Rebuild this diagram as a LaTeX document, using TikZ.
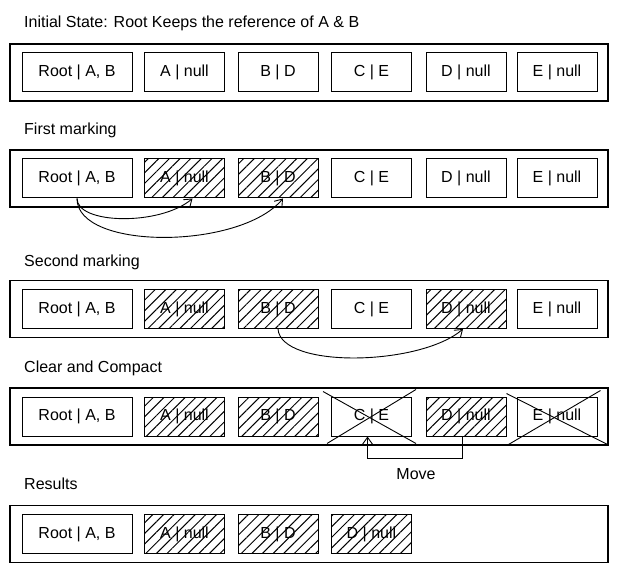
\documentclass[tikz,border=0pt]{standalone}
\usepackage{fontspec}
\setmainfont{Liberation Sans}
\usetikzlibrary{calc,arrows.meta,patterns.meta}

\begin{document}
\begin{tikzpicture}[x=1pt,y=-1pt,>={Straight Barb[length=7pt,width=10pt]},
  lbl/.style={font=\fontsize{16}{18}\selectfont},
  title/.style={lbl,anchor=base west,inner sep=0},
  frame/.style={draw,line width=1.2pt,minimum width=598,minimum height=57,inner sep=0},
  cell/.style={lbl,draw,line width=1pt,minimum width=80,minimum height=39,inner sep=0},
  wide/.style={minimum width=110},
  marked/.style={cell,pattern={Lines[angle=45,distance=7.5pt,line width=1pt]}},
  ref/.style={->,line width=0.9pt}]
  \useasboundingbox (0,0) rectangle (619,572);

  % initial state
  \node[title] (t1) at (24,28) {Initial State: Root Keeps the reference of A \& B};
  \node[frame] (f1) at (309,72.5) {};
  \node[cell,wide] (r1root) at (77,72.5) {Root | A, B};
  \node[cell] (r1a) at (184.5,72.5) {A | null};
  \node[cell] (r1b) at (278,72.5) {B | D};
  \node[cell] (r1c) at (371.5,72.5) {C | E};
  \node[cell] (r1d) at (466,72.5) {D | null};
  \node[cell] (r1e) at (557,72.5) {E | null};

  % first marking
  \node[title] (t2) at (24,135) {First marking};
  \node[frame] (f2) at (309,178.5) {};
  \node[cell,wide] (r2root) at (77,178.5) {Root | A, B};
  \node[marked] (r2a) at (184.5,178.5) {A | null};
  \node[marked] (r2b) at (278,178.5) {B | D};
  \node[cell] (r2c) at (371.5,178.5) {C | E};
  \node[cell] (r2d) at (466,178.5) {D | null};
  \node[cell] (r2e) at (557,178.5) {E | null};
  \draw[ref] (r2root.south) .. controls +(0,26) and (160,226) .. ([xshift=8]r2a.south);
  \draw[ref] (r2root.south) .. controls +(0,52) and (240,250) .. ([xshift=5]r2b.south);

  % second marking
  \node[title] (t3) at (24,267) {Second marking};
  \node[frame] (f3) at (309,309) {};
  \node[cell,wide] (r3root) at (77,309) {Root | A, B};
  \node[marked] (r3a) at (184.5,309) {A | null};
  \node[marked] (r3b) at (278,309) {B | D};
  \node[cell] (r3c) at (371.5,309) {C | E};
  \node[marked] (r3d) at (466,309) {D | null};
  \node[cell] (r3e) at (557,309) {E | null};
  \draw[ref] (r3b.south) .. controls +(3,40) and (420,366) .. ([xshift=-3]r3d.south);

  % clear and compact
  \node[title] (t4) at (24,373) {Clear and Compact};
  \node[frame] (f4) at (309,416.5) {};
  \node[cell,wide] (r4root) at (77,416.5) {Root | A, B};
  \node[marked] (r4a) at (184.5,416.5) {A | null};
  \node[marked] (r4b) at (278,416.5) {B | D};
  \node[cell] (r4c) at (371.5,416.5) {C | E};
  \node[marked] (r4d) at (466,416.5) {D | null};
  \node[cell] (r4e) at (557,416.5) {E | null};
  \draw[line width=0.9pt] ($(r4c.north west)+(-8,-5)$) -- ($(r4c.south east)+(4,7)$);
  \draw[line width=0.9pt] ($(r4c.south west)+(-4,7)$) -- ($(r4c.north east)+(4,-7)$);
  \draw[line width=0.9pt] ($(r4e.north west)+(-10,-3)$) -- ($(r4e.south east)+(10,8)$);
  \draw[line width=0.9pt] ($(r4e.south west)+(-8,8)$) -- ($(r4e.north east)+(3,-6)$);
  \draw[ref] ([xshift=-4]r4d.south) -- ++(0,22) -| ([xshift=-4]r4c.south);
  \node[lbl] (move) at (416,474) {Move};

  % results
  \node[title] (t5) at (24,489) {Results};
  \node[frame] (f5) at (309,534) {};
  \node[cell,wide] (r5root) at (77,534) {Root | A, B};
  \node[marked] (r5a) at (184.5,534) {A | null};
  \node[marked] (r5b) at (278,534) {B | D};
  \node[marked] (r5d) at (371.5,534) {D | null};
\end{tikzpicture}
\end{document}
